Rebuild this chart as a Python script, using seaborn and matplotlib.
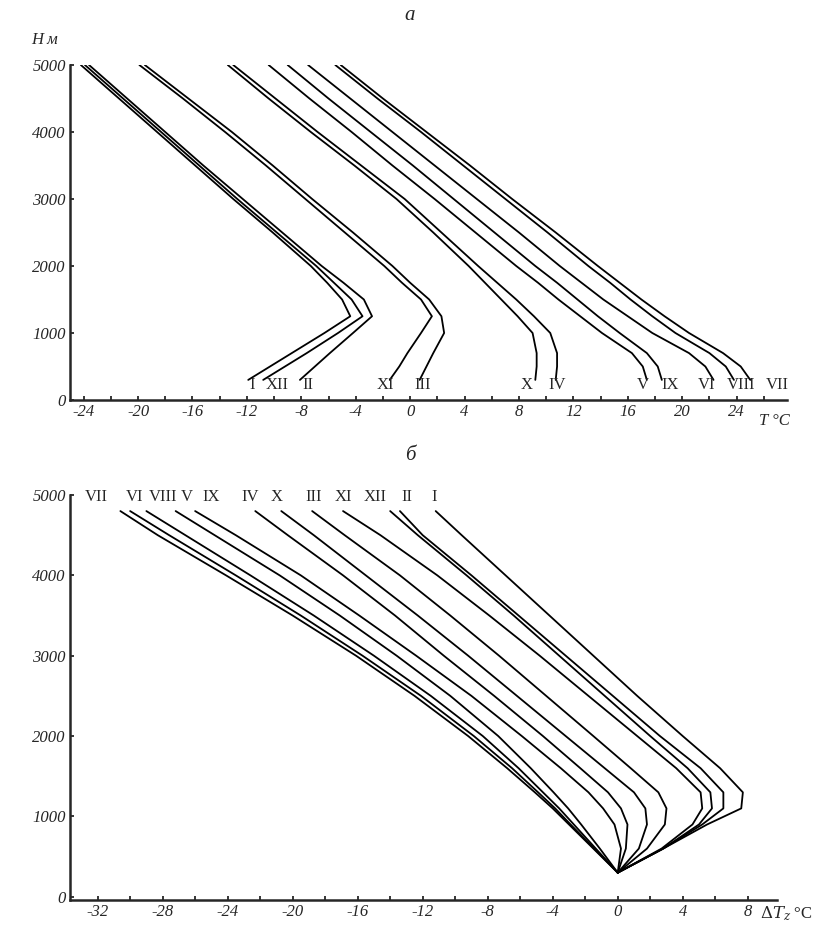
import numpy as np
import pandas as pd
import matplotlib
matplotlib.use("Agg")
import matplotlib.pyplot as plt
from matplotlib.ticker import MultipleLocator
import seaborn as sns

# --- panel a: T (deg C) against height H (m) for each month ---
months = ["I", "II", "III", "IV", "V", "VI", "VII", "VIII", "IX", "X", "XI", "XII"]
heights_a = [300, 500, 700, 1000, 1250, 1500, 1750, 2000, 2500, 3000, 3500, 4000, 4500, 5000]

a_I    = [-11.9, -10.3, -8.7, -6.3, -4.4, -5.0, -6.1, -7.3, -10.1, -13.0, -15.8, -18.6, -21.4, -24.2]
a_II   = [-8.1, -7.0, -5.9, -4.2, -2.8, -3.4, -4.9, -6.5, -9.4, -12.3, -15.2, -18.0, -20.8, -23.6]
a_III  = [0.7, 1.2, 1.7, 2.5, 2.3, 1.4, 0.0, -1.3, -4.2, -7.2, -10.1, -13.1, -16.3, -19.5]
a_IV   = [10.7, 10.8, 10.8, 10.3, 9.1, 7.8, 6.4, 5.0, 2.3, -0.4, -3.6, -6.8, -9.9, -13.0]
a_V    = [17.4, 17.1, 16.3, 14.1, 12.5, 10.9, 9.4, 7.8, 4.8, 1.8, -1.3, -4.3, -7.4, -10.4]
a_VI   = [22.3, 21.7, 20.5, 17.8, 16.0, 14.2, 12.6, 11.0, 8.0, 4.9, 1.8, -1.3, -4.4, -7.5]
a_VII  = [25.0, 24.3, 23.0, 20.5, 18.7, 17.0, 15.4, 13.8, 10.7, 7.5, 4.4, 1.2, -2.0, -5.1]
a_VIII = [23.8, 23.2, 22.0, 19.5, 17.8, 16.2, 14.7, 13.1, 10.1, 7.0, 3.9, 0.8, -2.4, -5.5]
a_IX   = [18.5, 18.2, 17.4, 15.4, 13.8, 12.3, 10.8, 9.2, 6.2, 3.2, 0.2, -2.9, -6.0, -9.0]
a_X    = [9.2, 9.3, 9.3, 9.0, 7.9, 6.7, 5.5, 4.3, 1.7, -1.0, -4.1, -7.3, -10.4, -13.4]
a_XI   = [-1.5, -0.8, -0.2, 0.8, 1.6, 0.8, -0.6, -1.9, -4.8, -7.7, -10.6, -13.6, -16.7, -19.9]
a_XII  = [-10.8, -9.2, -7.6, -5.3, -3.5, -4.3, -5.6, -6.9, -9.8, -12.7, -15.5, -18.3, -21.1, -23.9]

# --- panel b: temperature difference dT (deg C) against height ---
heights_b = [300, 600, 900, 1100, 1300, 1600, 2000, 2500, 3000, 3500, 4000, 4500, 4800]

b_I    = [0, 2.8, 5.5, 7.6, 7.7, 6.3, 4.0, 1.2, -1.5, -4.2, -6.9, -9.6, -11.2]
b_II   = [0, 2.8, 5.2, 6.5, 6.5, 5.1, 2.6, -0.3, -3.2, -6.1, -9.0, -12.0, -13.4]
b_III  = [0, 1.8, 2.9, 3.0, 2.5, 0.8, -1.5, -4.4, -7.3, -10.3, -13.4, -16.8, -18.8]
b_IV   = [0, 0.5, 0.6, 0.2, -0.6, -2.3, -4.6, -7.6, -10.7, -13.7, -16.9, -20.3, -22.3]
b_V    = [0, -1.1, -2.25, -3.05, -3.95, -5.35, -7.35, -10.3, -13.6, -17.1, -20.8, -24.8, -27.2]
b_VI   = [0, -1.45, -2.9, -3.85, -4.9, -6.5, -8.85, -12.1, -15.7, -19.5, -23.5, -27.6, -30.0]
b_VII  = [0, -1.5, -3.0, -4.0, -5.1, -6.8, -9.2, -12.5, -16.1, -20.0, -24.1, -28.3, -30.6]
b_VIII = [0, -1.35, -2.7, -3.6, -4.6, -6.1, -8.3, -11.5, -15.0, -18.7, -22.6, -26.6, -29.0]
b_IX   = [0, 0.2, -0.2, -0.9, -1.8, -3.5, -5.9, -9.0, -12.4, -15.9, -19.5, -23.5, -26.0]
b_X    = [0, 1.3, 1.8, 1.7, 1.0, -0.8, -3.2, -6.2, -9.2, -12.3, -15.5, -18.7, -20.7]
b_XI   = [0, 2.7, 4.6, 5.2, 5.1, 3.6, 1.2, -1.8, -4.8, -7.9, -11.1, -14.6, -16.9]
b_XII  = [0, 2.8, 5.0, 5.8, 5.7, 4.3, 2.0, -0.8, -3.6, -6.4, -9.3, -12.3, -14.0]

series_a = [a_I, a_II, a_III, a_IV, a_V, a_VI, a_VII, a_VIII, a_IX, a_X, a_XI, a_XII]
series_b = [b_I, b_II, b_III, b_IV, b_V, b_VI, b_VII, b_VIII, b_IX, b_X, b_XI, b_XII]


def to_long(heights, series):
    rows = []
    for m, vals in zip(months, series):
        for h, v in zip(heights, vals):
            rows.append((m, h, v))
    return pd.DataFrame(rows, columns=["month", "H", "T"])


df_a = to_long(heights_a, series_a)
df_b = to_long(heights_b, series_b)

sns.set_style("ticks")
plt.rcParams["font.family"] = ["Liberation Serif", "DejaVu Serif"]
plt.rcParams["axes.unicode_minus"] = False
plt.rcParams["mathtext.fontset"] = "dejavuserif"

W, H = 825, 932
fig = plt.figure(figsize=(W / 100, H / 100), dpi=100)
ax_a = fig.add_axes([70 / W, 1 - 400 / H, 717 / W, 335 / H])
ax_b = fig.add_axes([70 / W, 1 - 900 / H, 707 / W, 405 / H])

for ax, df in [(ax_a, df_a), (ax_b, df_b)]:
    sns.lineplot(data=df, x="T", y="H", units="month", estimator=None, sort=False,
                 color="black", lw=1.3, ax=ax, legend=False)
    sns.despine(ax=ax)
    for s in ["left", "bottom"]:
        ax.spines[s].set_linewidth(1.8)
    ax.tick_params(which="both", direction="in", length=3, width=1.3,
                   labelsize=12, pad=3)
    ax.xaxis.set_minor_locator(MultipleLocator(2))
    ax.yaxis.set_major_locator(MultipleLocator(1000))
    ax.set_xlabel("")
    ax.set_ylabel("")

ax_a.set_xlim(-25, 27.7)
ax_a.set_ylim(0, 5000)
ax_a.set_xticks(np.arange(-24, 25, 4))
ax_b.set_xlim(-33.7, 9.8)
ax_b.set_ylim(-40, 5000)
ax_b.set_xticks(np.arange(-32, 9, 4))

for ax in (ax_a, ax_b):
    for lbl in ax.get_xticklabels() + ax.get_yticklabels():
        lbl.set_style("italic")

# month labels
lab_a_x = [-11.6, -7.5, 0.9, 10.8, 17.1, 21.8, 27.0, 24.3, 19.1, 8.6, -1.8, -9.8]
for m, x in zip(months, lab_a_x):
    ax_a.text(x, 224, m, ha="center", va="center", fontsize=12)

lab_b_x = [-11.3, -13.0, -18.7, -22.6, -26.5, -29.7, -32.1, -28.0, -25.0, -21.0, -16.9, -14.9]
for m, x in zip(months, lab_b_x):
    ax_b.text(x, 4975, m, ha="center", va="center", fontsize=12)

fig.text(410 / W, 1 - 15 / H, "а", style="italic", fontsize=15, ha="center", va="center")
fig.text(410 / W, 1 - 455 / H, "б", style="italic", fontsize=15, ha="center", va="center")
fig.text(45 / W, 1 - 40 / H, "H м", style="italic", fontsize=12, ha="center", va="center")
fig.text(774 / W, 1 - 421 / H, "T °C", style="italic", fontsize=12, ha="center", va="center")
fig.text(786 / W, 1 - 914 / H, r"$\Delta T_z$ °C", fontsize=12, ha="center", va="center")

fig.savefig("out.png", dpi=100, facecolor="white")
